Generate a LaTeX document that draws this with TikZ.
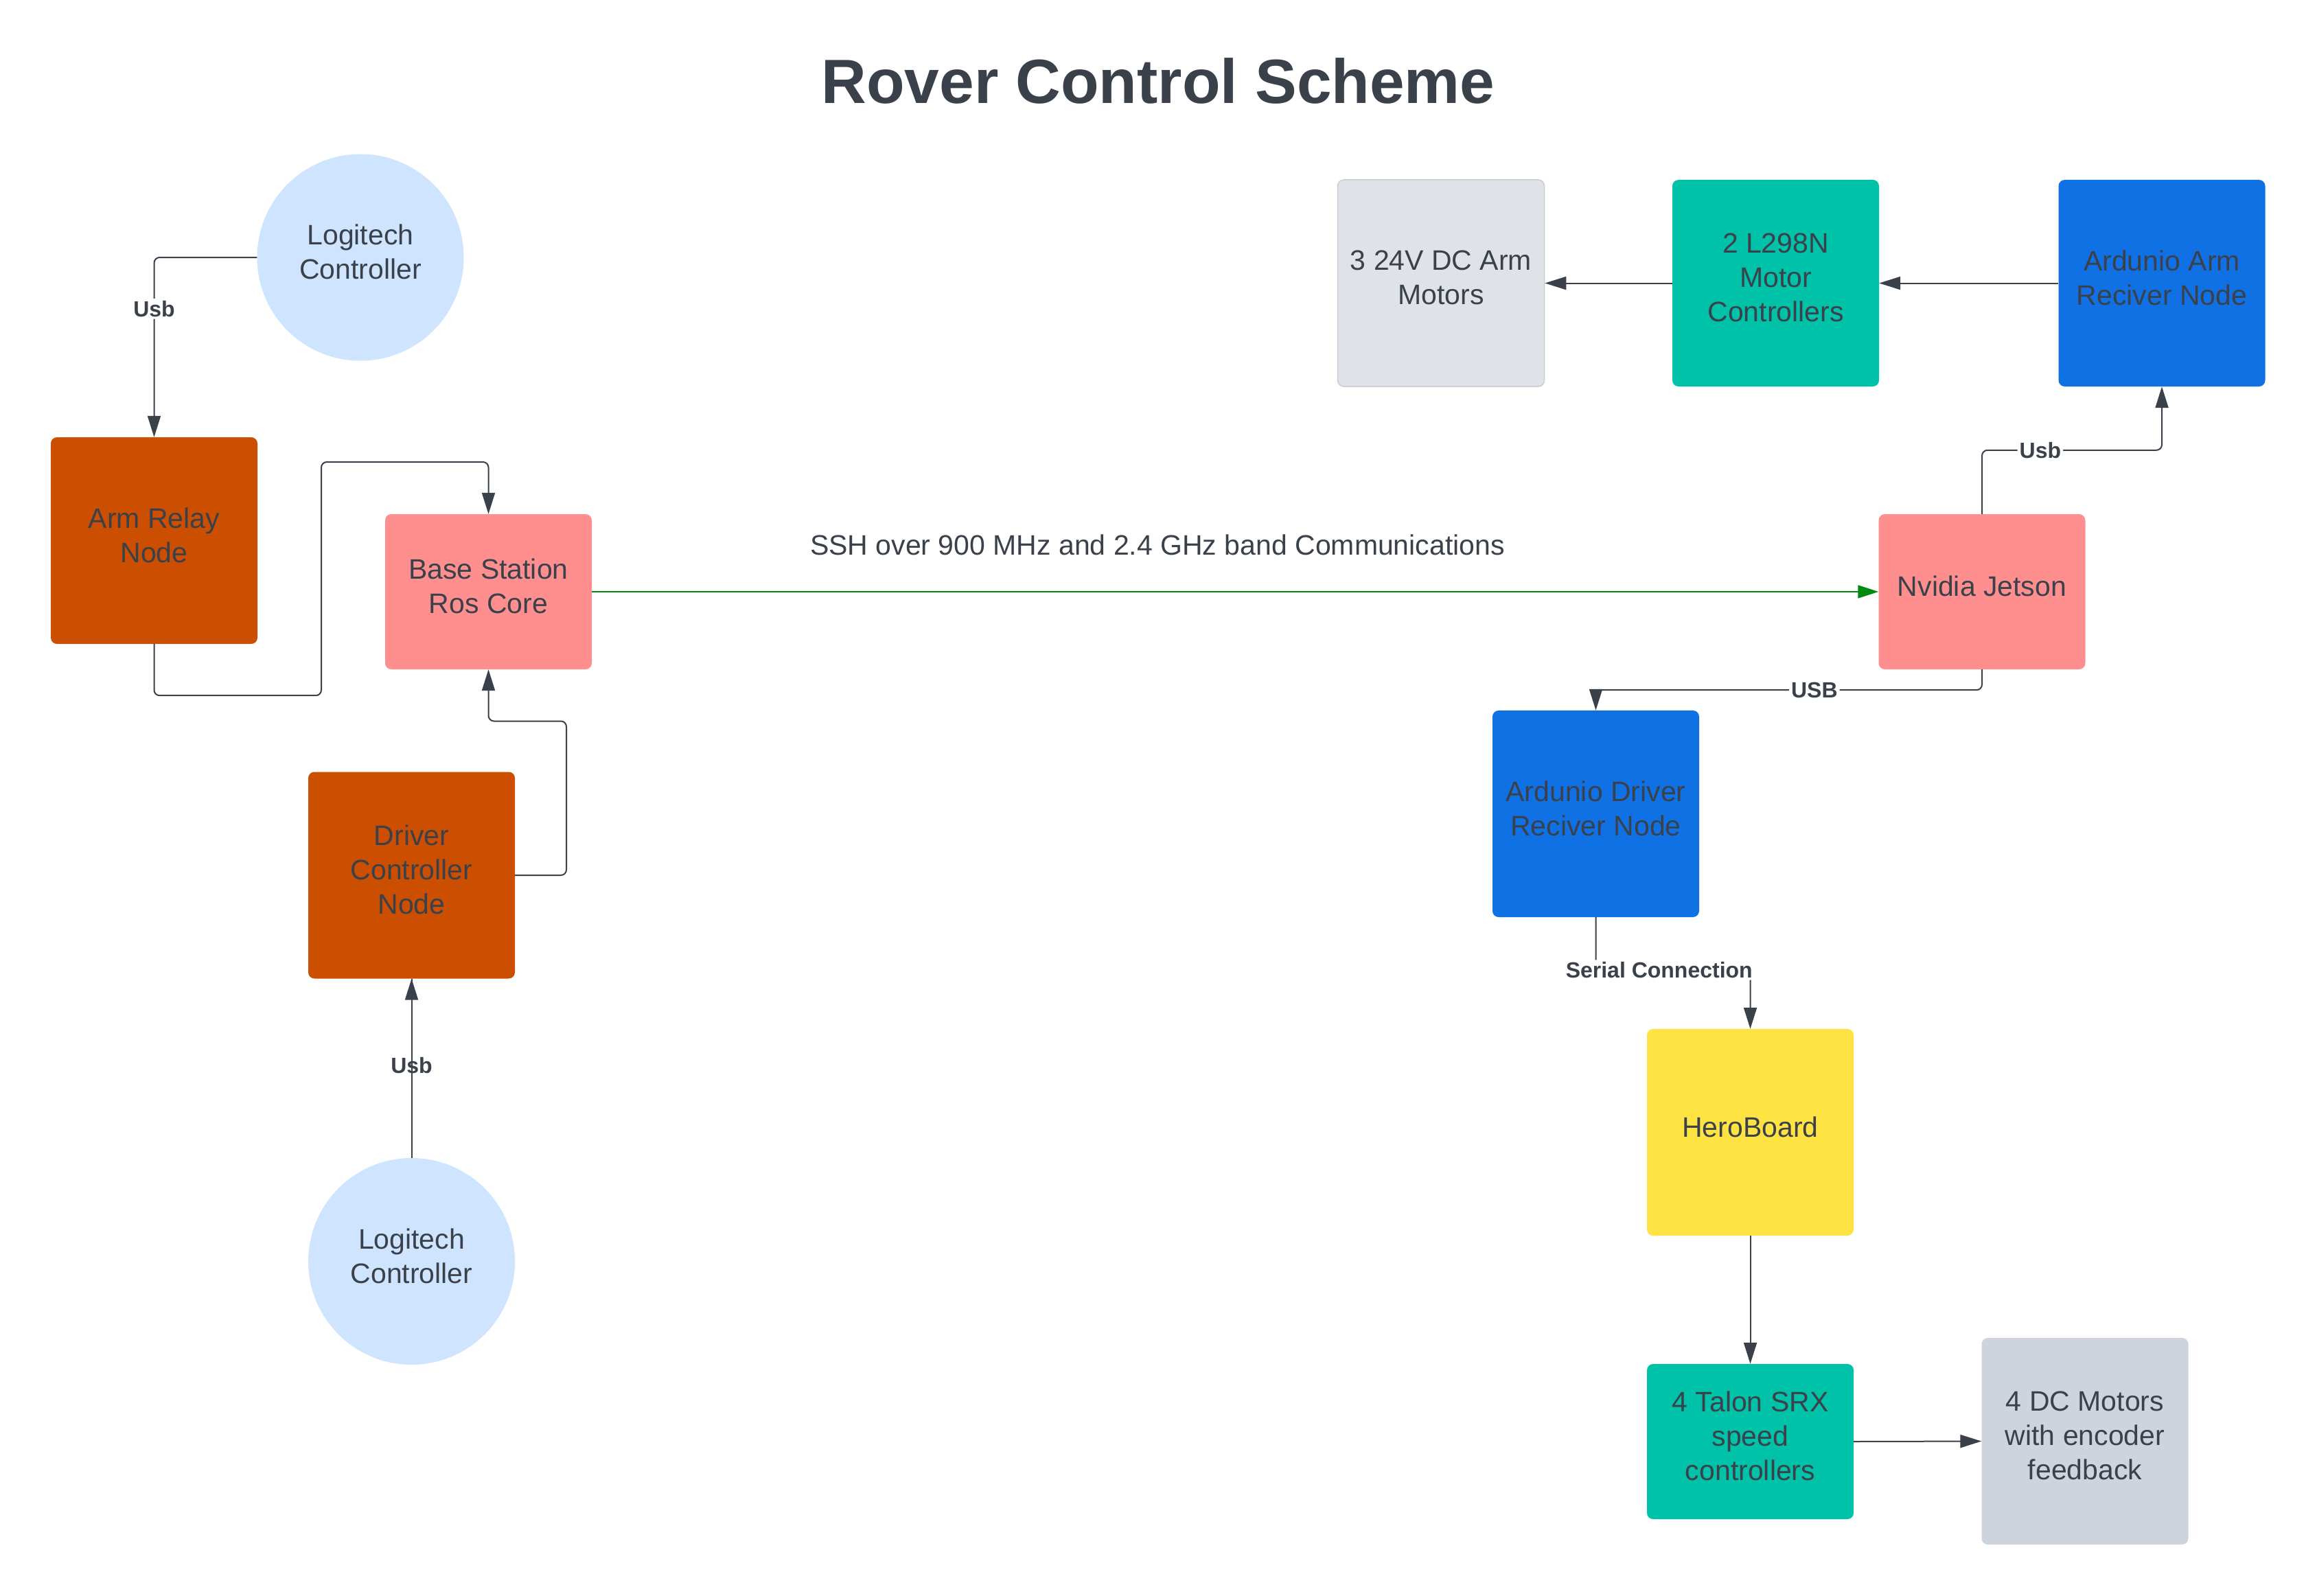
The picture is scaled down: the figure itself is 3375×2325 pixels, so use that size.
\documentclass[tikz,border=0pt]{standalone}
\usepackage{fontspec}
\setmainfont{Liberation Sans}
\usetikzlibrary{arrows.meta}
\definecolor{txt}{HTML}{3A414A}
\definecolor{lnk}{HTML}{3A414A}
\definecolor{logi}{HTML}{CFE4FF}
\definecolor{orng}{HTML}{CC4E00}
\definecolor{pink}{HTML}{FF8F8F}
\definecolor{teal}{HTML}{00C2A8}
\definecolor{blu}{HTML}{1071E5}
\definecolor{yel}{HTML}{FFE342}
\definecolor{gry1}{HTML}{DFE3E8}
\definecolor{gry1b}{HTML}{C9CED5}
\definecolor{gry2}{HTML}{CED4DB}
\definecolor{grn}{HTML}{008A0E}
\tikzset{
  box/.style={rectangle, rounded corners=9pt, minimum width=301pt, minimum height=301pt,
    inner sep=0pt, align=center, text=txt, font=\fontsize{41}{50}\selectfont, text depth=16pt},
  shortbox/.style={box, minimum height=226pt},
  ctrl/.style={circle, minimum size=301pt, inner sep=0pt, fill=logi, align=center, text=txt,
    font=\fontsize{41}{50}\selectfont, text depth=16pt},
  conn/.style={draw=lnk, line width=2pt, rounded corners=8pt,
    -{Triangle[length=31pt,width=19pt]}},
  plain/.style={draw=lnk, line width=2pt, rounded corners=8pt},
  elab/.style={fill=white, inner sep=3pt, text=txt, font=\bfseries\fontsize{32}{36}\selectfont},
}
\begin{document}
\begin{tikzpicture}[x=1pt, y=-1pt]
\useasboundingbox (0,0) rectangle (3375,2325);
\fill[white] (0,0) rectangle (3375,2325);

\node[text=txt, font=\bfseries\fontsize{91}{100}\selectfont] (title) at (1687,118) {Rover Control Scheme};

% left side
\node[ctrl] (logi1) at (525,375) {Logitech\\Controller};
\node[box, fill=orng] (armrelay) at (224.5,787.5) {Arm Relay\\Node};
\node[shortbox, fill=pink] (base) at (711.5,862) {Base Station\\Ros Core};
\node[box, fill=orng] (driver) at (599.5,1275) {Driver\\Controller\\Node};
\node[ctrl] (logi2) at (599.5,1837.5) {Logitech\\Controller};

% right side
\node[box, fill=gry1, draw=gry1b, line width=1.5pt] (motors3) at (2099,412.5) {3 24V DC Arm\\Motors};
\node[box, fill=teal] (l298) at (2586.5,412.5) {2 L298N\\Motor\\Controllers};
\node[box, fill=blu] (armrecv) at (3149,412.5) {Ardunio Arm\\Reciver Node};
\node[shortbox, fill=pink] (jetson) at (2887,862) {Nvidia Jetson};
\node[box, fill=blu] (drvrecv) at (2324.5,1185.5) {Ardunio Driver\\Reciver Node};
\node[box, fill=yel] (hero) at (2549.5,1649.5) {HeroBoard};
\node[shortbox, fill=teal] (talon) at (2549.5,2100) {4 Talon SRX\\speed\\controllers};
\node[box, fill=gry2] (dcmotors) at (3037,2099.5) {4 DC Motors\\with encoder\\feedback};

% SSH label
\node[text=txt, font=\fontsize{41}{50}\selectfont] (ssh) at (1686,794) {SSH over 900 MHz and 2.4 GHz band Communications};

% connectors
\draw[conn] (logi1.west) -| (armrelay.north) node[elab, pos=0.643] {Usb};
\draw[conn] (armrelay.south) -- ++(0,75) -| (468,673) -| (base.north);
\draw[conn] (driver.east) -| (825,1050.5) -| (base.south);
\draw[plain] (logi2.north) -- (driver.south) node[elab, pos=0.515] {Usb};
\draw[conn] (logi2.north) -- (driver.south);
\draw[draw=grn, line width=1.5pt, -{Triangle[length=30pt,width=19pt]}, color=grn] (base.east) -- (jetson.west);

\draw[conn] (jetson.north) -- ++(0,-93) -| (armrecv.south) node[elab, pos=0.162] {Usb};
\draw[conn] (jetson.south) -- ++(0,30) -| (drvrecv.north) node[elab, pos=0.217] {USB};
\draw[conn] (armrecv.west) -- (l298.east);
\draw[conn] (l298.west) -- (motors3.east);
\draw[conn] (drvrecv.south) -- ++(0,77) -| (hero.north) node[elab, pos=0.205] {Serial Connection};
\draw[conn] (hero.south) -- (talon.north);
\draw[conn] (talon.east) -- (dcmotors.west);
\end{tikzpicture}
\end{document}
